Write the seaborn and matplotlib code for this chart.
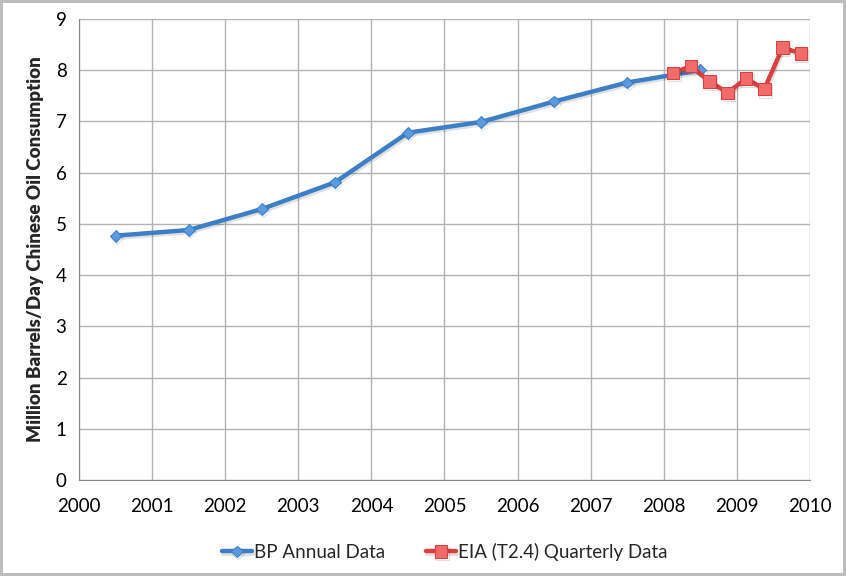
import pandas as pd
import matplotlib.pyplot as plt
import matplotlib.patheffects as pe
import seaborn as sns

# BP annual data, plotted at mid-year
bp_years = [2000.5, 2001.5, 2002.5, 2003.5, 2004.5, 2005.5, 2006.5, 2007.5, 2008.5]
bp_values = [4.77, 4.88, 5.29, 5.81, 6.78, 6.99, 7.39, 7.76, 8.00]

# EIA quarterly data, plotted at mid-quarter
eia_times = [2008.125, 2008.375, 2008.625, 2008.875, 2009.125, 2009.375, 2009.625, 2009.875]
eia_values = [7.95, 8.08, 7.78, 7.56, 7.84, 7.63, 8.44, 8.33]

x_ticks = list(range(2000, 2011))
y_ticks = list(range(0, 10))

def main():
    sns.set_style("white")
    plt.rcParams["font.family"] = ["Lato", "DejaVu Sans"]

    bp = pd.DataFrame({"t": bp_years, "v": bp_values})
    eia = pd.DataFrame({"t": eia_times, "v": eia_values})

    fig = plt.figure(figsize=(8.46, 5.76), dpi=100)
    ax = fig.add_axes([0.0934, 0.1667, 0.864, 0.8003])

    shadow = [pe.SimpleLineShadow(offset=(1, -1.5), alpha=0.12), pe.Normal()]

    sns.lineplot(data=bp, x="t", y="v", ax=ax, color="#3d7fc6", linewidth=3.2,
                 marker="D", markersize=6, markerfacecolor="#5a9ae0",
                 markeredgecolor="#3d7fc6", label="BP Annual Data",
                 path_effects=shadow, zorder=3)
    sns.lineplot(data=eia, x="t", y="v", ax=ax, color="#d8413f", linewidth=3.2,
                 marker="s", markersize=9, markerfacecolor="#f26b6b",
                 markeredgecolor="#d8413f", label="EIA (T2.4) Quarterly Data",
                 path_effects=shadow, zorder=4)

    ax.set_xlim(2000, 2010)
    ax.set_ylim(0, 9)
    ax.set_xticks(x_ticks)
    ax.set_yticks(y_ticks)
    ax.set_xticklabels([str(t) for t in x_ticks])
    ax.grid(True, color="#b3b3b3", linewidth=1)
    ax.set_axisbelow(True)
    for side in ["top", "right"]:
        ax.spines[side].set_visible(False)
    for side in ["left", "bottom"]:
        ax.spines[side].set_color("#888888")
    ax.tick_params(axis="both", which="both", direction="inout", length=8,
                   color="#888888", labelsize=13.5, colors="black", pad=5)
    ax.tick_params(axis="x", pad=9)

    ax.set_xlabel("")
    ax.set_ylabel("Million Barrels/Day Chinese Oil Consumption",
                  fontsize=13.5, fontweight="heavy", labelpad=8)

    ax.legend(loc="upper center", bbox_to_anchor=(0.5, -0.1), ncol=2,
              frameon=False, fontsize=13.5, handlelength=1.6,
              handletextpad=0.1, columnspacing=2.2)

    fig.patch.set_edgecolor("#bdbdbd")
    fig.patch.set_linewidth(3)

    fig.savefig("out.png", dpi=100)

if __name__ == "__main__":
    main()
